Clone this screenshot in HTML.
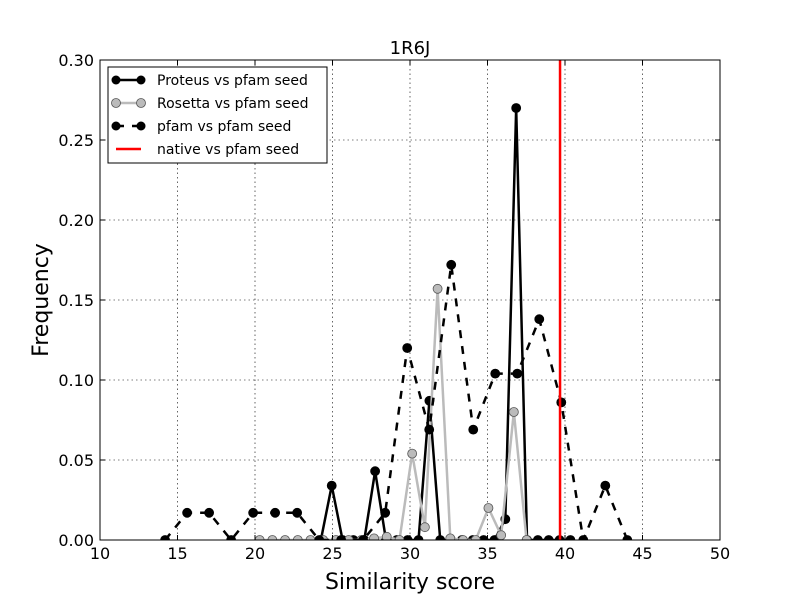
<!DOCTYPE html>
<html><head><meta charset="utf-8"><style>
html,body{margin:0;padding:0;background:#fff;}
svg{display:block;font-family:"DejaVu Sans","Liberation Sans",sans-serif;}
</style></head><body>
<svg id="chart" width="800" height="600" viewBox="0 0 800 600">
<defs><clipPath id="plotclip"><rect x="100" y="60" width="620" height="480"/></clipPath></defs>
<rect width="800" height="600" fill="#fff"/>
<g id="grid"></g>
<g id="series" clip-path="url(#plotclip)"></g>
<rect x="100" y="60" width="620" height="480" fill="none" stroke="#000" stroke-width="1"/>
<g id="axes"></g>
<text x="410" y="54" text-anchor="middle" font-size="18">1R6J</text>
<text x="410" y="589" text-anchor="middle" font-size="22">Similarity score</text>
<text transform="translate(48,300) rotate(-90)" text-anchor="middle" font-size="22">Frequency</text>
<g>
<rect x="108" y="67" width="219" height="96" fill="#fff" stroke="#000"/>
<g><line x1="116" y1="80" x2="141" y2="80" stroke="#000" stroke-width="2.5"/><circle cx="116" cy="80" r="4.5"/><circle cx="141" cy="80" r="4.5"/><text x="157" y="85" font-size="14">Proteus vs pfam seed</text></g>
<g><line x1="116" y1="103" x2="141" y2="103" stroke="#bbb" stroke-width="2.5"/><circle cx="116" cy="103" r="4.5" fill="#bbb" stroke="#555" stroke-width="0.8"/><circle cx="141" cy="103" r="4.5" fill="#bbb" stroke="#555" stroke-width="0.8"/><text x="157" y="108" font-size="14">Rosetta vs pfam seed</text></g>
<g><line x1="116" y1="126" x2="141" y2="126" stroke="#000" stroke-width="2.5" stroke-dasharray="8,8"/><circle cx="116" cy="126" r="4.5"/><circle cx="141" cy="126" r="4.5"/><text x="157" y="131" font-size="14">pfam vs pfam seed</text></g>
<g><line x1="116" y1="149" x2="141" y2="149" stroke="#f00" stroke-width="2.5"/><text x="157" y="154" font-size="14">native vs pfam seed</text></g>
</g>
</svg>
<script>
const xTicks=[10,15,20,25,30,35,40,45,50];
const yTicks=[0,0.05,0.10,0.15,0.20,0.25,0.30];
const yTickLabels=["0.00","0.05","0.10","0.15","0.20","0.25","0.30"];
const proteusX=[24.25,24.95,25.65,26.35,27.05,27.75,28.45,29.15,29.85,30.55,31.25,31.95,32.65,33.35,34.05,34.75,35.45,36.15,36.85,37.55,38.25,38.95,39.65,40.35];
const proteusY=[0,0.034,0,0,0,0.043,0,0,0,0,0.087,0,0,0,0,0,0,0.013,0.27,0,0,0,0,0];
const rosettaX=[20.3,21.12,21.94,22.76,23.58,24.4,25.22,26.04,26.86,27.68,28.5,29.32,30.14,30.96,31.78,32.6,33.42,34.24,35.06,35.88,36.7,37.52];
const rosettaY=[0,0,0,0,0,0,0,0,0,0.001,0.002,0,0.054,0.008,0.157,0.001,0,0,0.02,0.003,0.08,0];
const pfamX=[14.2,15.62,17.04,18.46,19.88,21.3,22.72,24.14,25.56,26.98,28.4,29.82,31.24,32.66,34.08,35.5,36.92,38.34,39.76,41.18,42.6,44.02];
const pfamY=[0,0.017,0.017,0,0.017,0.017,0.017,0,0,0,0.017,0.12,0.069,0.172,0.069,0.104,0.104,0.138,0.086,0,0.034,0];
const nativeX=[39.68];
const NS="http://www.w3.org/2000/svg";
const sx=v=>100+(v-10)*15.5;
const sy=v=>540-v*1600;
function mk(tag,attrs,parent){const e=document.createElementNS(NS,tag);for(const k in attrs)e.setAttribute(k,attrs[k]);parent.appendChild(e);return e;}
const grid=document.getElementById('grid'),axes=document.getElementById('axes'),ser=document.getElementById('series');
xTicks.forEach(t=>{
 const x=sx(t);
 if(t>10&&t<50){const g=mk('line',{x1:x,y1:60,x2:x,y2:540,stroke:'#000','stroke-width':0.6,'stroke-dasharray':'1.5,3'},grid);
 
 }
 mk('line',{x1:x,y1:540,x2:x,y2:535,stroke:'#000'},axes);
 mk('line',{x1:x,y1:60,x2:x,y2:65,stroke:'#000'},axes);
 const l=mk('text',{x:x,y:559,'text-anchor':'middle','font-size':16},axes);l.textContent=t;
 
 
});
yTicks.forEach((t,i)=>{
 const y=sy(t);
 if(i>0&&i<yTicks.length-1){const g=mk('line',{x1:100,y1:y,x2:720,y2:y,stroke:'#000','stroke-width':0.6,'stroke-dasharray':'1.5,3'},grid);
 
 }
 mk('line',{x1:100,y1:y,x2:105,y2:y,stroke:'#000'},axes);
 mk('line',{x1:720,y1:y,x2:715,y2:y,stroke:'#000'},axes);
 const l=mk('text',{x:94,y:y+6,'text-anchor':'end','font-size':16},axes);l.textContent=yTickLabels[i];
 
 
});
function series(xs,ys,name,stroke,fill,dash,mstroke){
 const g=mk('g',{},ser);
 
 
 const pts=xs.map((x,i)=>sx(x)+','+sy(ys[i])).join(' ');
 const a={points:pts,fill:'none',stroke:stroke,'stroke-width':2.5,'stroke-linejoin':'round'};
 if(dash)a['stroke-dasharray']=dash;
 mk('polyline',a,g);
 xs.forEach((x,i)=>{const c=mk('circle',{cx:sx(x),cy:sy(ys[i]),r:4.5,fill:fill,stroke:mstroke,'stroke-width':0.8},g);
 
 });
}
series(proteusX,proteusY,'proteus-series','#000','#000',null,'#000');
series(rosettaX,rosettaY,'rosetta-series','#bbb','#bbb',null,'#555');
series(pfamX,pfamY,'pfam-series','#000','#000','8,8','#000');
nativeX.forEach(v=>{const l=mk('line',{x1:sx(v),y1:60,x2:sx(v),y2:540,stroke:'#f00','stroke-width':2.5},ser);
 
 });
</script>
</body></html>
